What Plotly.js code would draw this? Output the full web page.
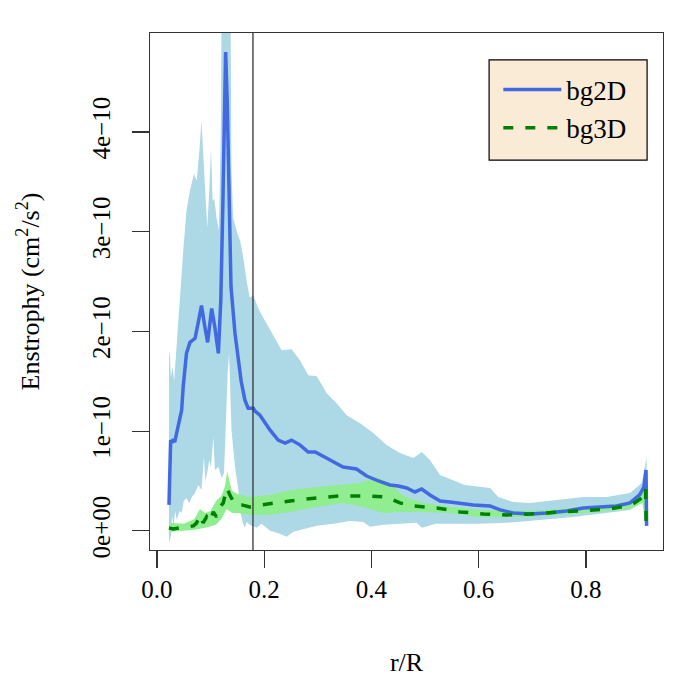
<!DOCTYPE html>
<html>
<head>
<meta charset="utf-8">
<script src="https://cdn.plot.ly/plotly-3.0.1.min.js"></script>
<style>
  html, body { margin: 0; padding: 0; background: #fff; }
  #chart { width: 700px; height: 700px; }
</style>
</head>
<body>
<div id="chart"></div>
<script>
// values are in units of 1e-10 cm^2/s^2
const SCALE = 1e-10;

// ============== bg2D mean ==============
const bg2dR = [0.0224, 0.0255, 0.028, 0.030, 0.033, 0.037, 0.046, 0.049, 0.055, 0.0615, 0.071, 0.077, 0.083, 0.0895, 0.0945,
  0.102, 0.108, 0.1145, 0.119, 0.123, 0.128, 0.131, 0.1345, 0.138, 0.1455, 0.152, 0.157, 0.164, 0.170, 0.1796, 0.183, 0.192,
  0.198, 0.211, 0.226, 0.239, 0.251, 0.267, 0.282, 0.295, 0.316, 0.347, 0.372, 0.391, 0.413, 0.4345, 0.45, 0.4656, 0.481,
  0.4936, 0.509, 0.528, 0.546, 0.559, 0.59, 0.621, 0.64, 0.664, 0.6956, 0.727, 0.764, 0.795, 0.826, 0.857, 0.882, 0.9,
  0.908, 0.912, 0.913];
const bg2dMean = [0.26, 0.91, 0.88, 0.92, 0.89, 1.0, 1.21, 1.45, 1.78, 1.89, 1.93, 2.09, 2.26, 2.04, 1.89,
  2.23, 2.04, 1.78, 2.31, 3.31, 4.80, 4.31, 3.2, 2.45, 1.98, 1.68, 1.50, 1.31, 1.23, 1.23, 1.20, 1.16,
  1.11, 1.01, 0.91, 0.88, 0.91, 0.86, 0.79, 0.79, 0.73, 0.64, 0.62, 0.55, 0.50, 0.46, 0.45, 0.43, 0.39,
  0.42, 0.36, 0.30, 0.29, 0.28, 0.26, 0.25, 0.21, 0.18, 0.17, 0.18, 0.20, 0.23, 0.24, 0.25, 0.28, 0.36,
  0.44, 0.61, 0.05];

// ============== bg2D band ==============
const bg2dUpR = [0.0224, 0.024, 0.026, 0.029, 0.032, 0.040, 0.049, 0.055, 0.0615, 0.069, 0.074, 0.079, 0.083, 0.0876, 0.0938,
  0.0975, 0.1007, 0.1038, 0.1069, 0.111, 0.1156, 0.119, 0.1205, 0.137, 0.139, 0.142, 0.150, 0.155, 0.161, 0.167, 0.173,
  0.1796, 0.189, 0.198, 0.211, 0.2325, 0.251, 0.2667, 0.282, 0.298, 0.3165, 0.335, 0.3537, 0.3786, 0.4035, 0.428, 0.453,
  0.478, 0.4936, 0.509, 0.528, 0.5525, 0.574, 0.621, 0.6365, 0.664, 0.6956, 0.745, 0.795, 0.8386, 0.882, 0.904, 0.913];
const bg2dUp = [1.81, 1.75, 1.54, 1.64, 1.50, 2.14, 2.81, 3.21, 3.41, 3.58, 3.51, 3.81, 4.11, 3.64, 3.04,
  3.41, 3.83, 3.31, 3.33, 3.14, 3.01, 4.0, 5.3, 5.3, 3.6, 3.14, 2.98, 2.91, 2.74, 2.51, 2.34,
  2.36, 2.23, 2.14, 2.01, 1.81, 1.82, 1.71, 1.56, 1.55, 1.38, 1.28, 1.16, 1.08, 0.98, 0.86, 0.78,
  0.73, 0.79, 0.71, 0.56, 0.51, 0.46, 0.43, 0.34, 0.29, 0.28, 0.31, 0.34, 0.34, 0.38, 0.48, 0.74];
const bg2dLoR = [0.0224, 0.026, 0.028, 0.031, 0.034, 0.037, 0.042, 0.046, 0.050, 0.055, 0.060, 0.065, 0.071, 0.077, 0.083,
  0.0875, 0.0905, 0.094, 0.0975, 0.1007, 0.105, 0.108, 0.1145, 0.1206, 0.125, 0.1287, 0.132, 0.1345, 0.137, 0.139, 0.1455,
  0.1517, 0.156, 0.160, 0.164, 0.167, 0.173, 0.186, 0.195, 0.211, 0.229, 0.242, 0.254, 0.273, 0.298, 0.329, 0.360, 0.385,
  0.397, 0.422, 0.453, 0.484, 0.494, 0.520, 0.560, 0.600, 0.652, 0.714, 0.776, 0.839, 0.882, 0.904, 0.913];
const bg2dLo = [-0.12, -0.05, 0.15, 0.05, 0.20, 0.11, 0.20, 0.18, 0.30, 0.33, 0.28, 0.34, 0.38, 0.46, 0.41,
  0.74, 0.50, 0.59, 0.71, 0.63, 0.94, 0.61, 0.64, 0.53, 0.58, 1.11, 1.60, 1.78, 1.50, 1.01, 0.64,
  0.41, 0.18, 0.08, 0.03, 0.09, 0.06, 0.03, 0.07, 0.0, -0.03, -0.06, -0.01, 0.02, 0.05, 0.07, 0.10, 0.09,
  0.04, 0.06, 0.07, 0.08, 0.03, 0.07, 0.07, 0.07, 0.08, 0.11, 0.14, 0.18, 0.21, 0.28, 0.38];

// ============== bg3D mean ==============
const bg3dR = [0.0224, 0.030, 0.043, 0.0615, 0.068, 0.074, 0.080, 0.086, 0.0927, 0.0988, 0.105, 0.111, 0.1175, 0.1236, 0.130,
  0.136, 0.1455, 0.158, 0.173, 0.195, 0.220, 0.248, 0.298, 0.341, 0.385, 0.428, 0.453, 0.478, 0.5216, 0.565, 0.6085,
  0.652, 0.6956, 0.752, 0.801, 0.845, 0.885, 0.904, 0.911, 0.912];
const bg3dMean = [0.03, 0.02, 0.03, 0.04, 0.05, 0.08, 0.16, 0.08, 0.14, 0.09, 0.19, 0.14, 0.24, 0.28, 0.43,
  0.36, 0.26, 0.26, 0.24, 0.26, 0.28, 0.30, 0.33, 0.35, 0.35, 0.34, 0.28, 0.25, 0.23, 0.19, 0.17,
  0.16, 0.17, 0.19, 0.21, 0.22, 0.26, 0.33, 0.43, 0.09];

// ============== bg3D band ==============
const bg3dUpR = [0.0224, 0.050, 0.070, 0.080, 0.090, 0.100, 0.110, 0.120, 0.127, 0.131, 0.135, 0.140, 0.150, 0.173, 0.211,
  0.248, 0.298, 0.347, 0.379, 0.410, 0.434, 0.459, 0.497, 0.546, 0.600, 0.700, 0.800, 0.880, 0.905, 0.912];
const bg3dUp = [0.08, 0.07, 0.12, 0.22, 0.18, 0.20, 0.30, 0.35, 0.45, 0.60, 0.50, 0.40, 0.37, 0.34, 0.36,
  0.41, 0.44, 0.46, 0.48, 0.54, 0.48, 0.35, 0.28, 0.24, 0.21, 0.20, 0.24, 0.29, 0.38, 0.47];
const bg3dLoR = [0.0224, 0.050, 0.070, 0.090, 0.110, 0.120, 0.130, 0.140, 0.150, 0.173, 0.211, 0.248, 0.298, 0.347, 0.385,
  0.422, 0.453, 0.497, 0.546, 0.600, 0.700, 0.800, 0.880, 0.905, 0.912];
const bg3dLo = [-0.01, 0.0, 0.01, 0.03, 0.06, 0.12, 0.22, 0.18, 0.18, 0.16, 0.16, 0.19, 0.24, 0.28, 0.24,
  0.18, 0.19, 0.19, 0.18, 0.14, 0.14, 0.18, 0.22, 0.28, 0.05];

// ============== axes ==============
const xTicks = [0, 0.2, 0.4, 0.6, 0.8];
const xTickText = ['0.0', '0.2', '0.4', '0.6', '0.8'];
const yTicks = [0, 1, 2, 3, 4];
const yTickText = ['0e+00', '1e\u221210', '2e\u221210', '3e\u221210', '4e\u221210'];
const cutR = 0.179;

const scaled = arr => arr.map(v => v * SCALE);

// band as closed polygon: upper edge forward, lower edge back
const band = (upR, up, loR, lo, color) => ({
    x: upR.concat(loR.slice().reverse()),
    y: scaled(up.concat(lo.slice().reverse())),
    type: 'scatter',
    mode: 'lines',
    fill: 'toself',
    fillcolor: color,
    line: { width: 0, color: color },
    hoverinfo: 'skip',
    showlegend: false
});

const traces = [
    band(bg2dUpR, bg2dUp, bg2dLoR, bg2dLo, '#ADD8E6'),
    band(bg3dUpR, bg3dUp, bg3dLoR, bg3dLo, '#90EE90'),
    {
        x: bg2dR, y: scaled(bg2dMean),
        type: 'scatter', mode: 'lines', name: 'bg2D',
        line: { color: '#4169E1', width: 3.5 }
    },
    {
        x: bg3dR, y: scaled(bg3dMean),
        type: 'scatter', mode: 'lines', name: 'bg3D',
        line: { color: '#008000', width: 3.5, dash: '10px,12px' }
    }
];

const axisCommon = {
    showgrid: false,
    zeroline: false,
    showline: true,
    mirror: true,
    linecolor: '#333',
    linewidth: 1.2,
    ticks: 'outside',
    ticklen: 17,
    tickwidth: 1.2,
    tickcolor: '#333',
    tickfont: { size: 25 }
};

const layout = {
    width: 700,
    height: 700,
    margin: { l: 150, r: 37, t: 33, b: 150 },
    paper_bgcolor: '#fff',
    plot_bgcolor: '#fff',
    font: { family: '"Liberation Serif", "Times New Roman", serif', size: 25, color: '#000' },
    xaxis: Object.assign({}, axisCommon, {
        range: [-0.013, 0.9436],
        tickvals: xTicks,
        ticktext: xTickText,
        title: { text: 'r/R', font: { size: 26 }, standoff: 50 }
    }),
    yaxis: Object.assign({}, axisCommon, {
        range: [-0.192 * SCALE, 4.992 * SCALE],
        tickvals: scaled(yTicks),
        ticktext: yTickText,
        tickangle: -90,
        ticklabelstandoff: 12,
        title: { text: 'Enstrophy (cm<sup>2</sup>/s<sup>2</sup>)', font: { size: 26 }, standoff: 40 }
    }),
    shapes: [
        {
            type: 'line', xref: 'x', yref: 'paper',
            x0: cutR, x1: cutR, y0: 0, y1: 1,
            line: { color: '#333', width: 1.3 }
        },
        {
            type: 'rect', xref: 'paper', yref: 'paper',
            x0: 0.661, x1: 0.969, y0: 0.754, y1: 0.948,
            fillcolor: '#FAEBD7',
            line: { color: '#000', width: 1.2 },
            layer: 'above'
        }
    ],
    legend: {
        x: 0.679, y: 0.937,
        xanchor: 'left', yanchor: 'top',
        bgcolor: 'rgba(0,0,0,0)',
        borderwidth: 0,
        font: { size: 27 },
        itemwidth: 58,
        tracegroupgap: 0
    },
    showlegend: true
};

document.addEventListener('DOMContentLoaded', () => {
    Plotly.newPlot('chart', traces, layout, { displayModeBar: false, staticPlot: true });
});
</script>
</body>
</html>
